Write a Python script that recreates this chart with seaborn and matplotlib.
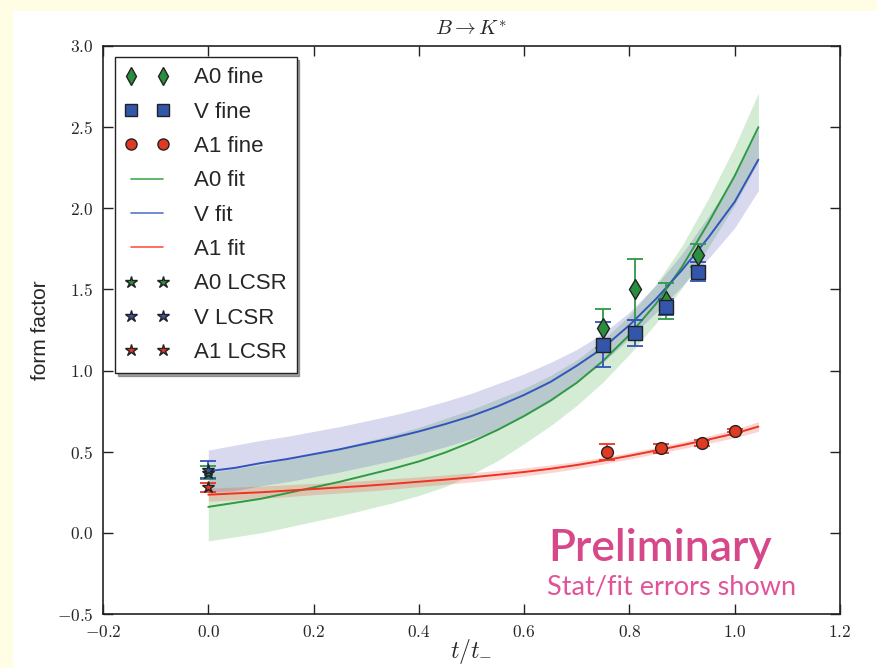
import numpy as np
import pandas as pd
import matplotlib
matplotlib.use("Agg")
import matplotlib.pyplot as plt
import seaborn as sns
from matplotlib.lines import Line2D
from matplotlib.ticker import FuncFormatter

# ---------------- data ----------------
fit_t = [0.0, 0.05, 0.1, 0.15, 0.2, 0.25, 0.3, 0.35, 0.4, 0.45, 0.5, 0.55, 0.6,
         0.65, 0.7, 0.75, 0.8, 0.85, 0.9, 0.95, 1.0, 1.045]
a0_fit = [0.16, 0.185, 0.21, 0.245, 0.28, 0.315, 0.355, 0.395, 0.44, 0.495, 0.56,
          0.635, 0.72, 0.815, 0.925, 1.06, 1.22, 1.41, 1.64, 1.91, 2.20, 2.50]
a0_err = [0.21, 0.21, 0.21, 0.21, 0.21, 0.21, 0.21, 0.21, 0.21, 0.21, 0.20, 0.19,
          0.17, 0.155, 0.14, 0.13, 0.12, 0.12, 0.13, 0.15, 0.18, 0.21]
v_fit = [0.38, 0.40, 0.43, 0.455, 0.485, 0.515, 0.55, 0.585, 0.625, 0.67, 0.72,
         0.78, 0.85, 0.93, 1.03, 1.14, 1.28, 1.44, 1.62, 1.82, 2.04, 2.30]
v_err = [0.13, 0.14, 0.14, 0.14, 0.14, 0.14, 0.14, 0.14, 0.14, 0.14, 0.14, 0.14,
         0.13, 0.12, 0.10, 0.09, 0.08, 0.085, 0.10, 0.13, 0.16, 0.19]
a1_fit = [0.235, 0.243, 0.25, 0.26, 0.27, 0.28, 0.29, 0.302, 0.315, 0.328, 0.342,
          0.358, 0.375, 0.395, 0.418, 0.445, 0.475, 0.507, 0.54, 0.575, 0.612, 0.655]
a1_err = [0.04, 0.039, 0.038, 0.037, 0.035, 0.034, 0.033, 0.032, 0.03, 0.029, 0.028,
          0.027, 0.025, 0.024, 0.022, 0.021, 0.02, 0.02, 0.021, 0.023, 0.026, 0.03]

a0_t = [0.75, 0.81, 0.87, 0.93]
a0_val = [1.26, 1.50, 1.43, 1.71]
a0_unc = [0.12, 0.19, 0.11, 0.07]

v_t = [0.75, 0.81, 0.87, 0.93]
v_val = [1.16, 1.23, 1.39, 1.61]
v_unc = [0.14, 0.08, 0.05, 0.06]

a1_t = [0.757, 0.86, 0.937, 1.0]
a1_val = [0.50, 0.52, 0.555, 0.63]
a1_unc = [0.05, 0.03, 0.02, 0.01]

lcsr_t = [0.0]
a0_lcsr, a0_lcsr_err = [0.37], [0.04]
v_lcsr, v_lcsr_err = [0.39], [0.05]
a1_lcsr, a1_lcsr_err = [0.28], [0.03]

x_ticks = [-0.2, 0.0, 0.2, 0.4, 0.6, 0.8, 1.0, 1.2]
y_ticks = [-0.5, 0.0, 0.5, 1.0, 1.5, 2.0, 2.5, 3.0]

# ---------------- style ----------------
sns.set_style("ticks")
plt.rcParams["mathtext.fontset"] = "cm"
plt.rcParams["font.family"] = ["Liberation Sans", "DejaVu Sans"]

G_LINE, B_LINE, R_LINE = "#2e9a44", "#3355bb", "#ee3322"
G_MK, B_MK, R_MK = "#2a8f3c", "#3355aa", "#e03a22"
EDGE = "#222222"

fig = plt.figure(figsize=(8.77, 6.68), dpi=100, facecolor="#fffde4")
fig.patches.append(plt.Rectangle((13 / 877, 0), 1, 1 - 11 / 668, transform=fig.transFigure,
                                 facecolor="white", edgecolor="none", zorder=-10))
ax = fig.add_axes([103 / 877, 54 / 668, 737 / 877, 568 / 668])
ax.set_facecolor("white")

df = pd.DataFrame({"t": fit_t, "A0": a0_fit, "V": v_fit, "A1": a1_fit})
t = np.array(fit_t)

ax.fill_between(t, np.array(a0_fit) - a0_err, np.array(a0_fit) + a0_err,
                color="#2ca02c", alpha=0.2, lw=0, zorder=1)
ax.fill_between(t, np.array(v_fit) - v_err, np.array(v_fit) + v_err,
                color="#5050b8", alpha=0.22, lw=0, zorder=1)
ax.fill_between(t, np.array(a1_fit) - a1_err, np.array(a1_fit) + a1_err,
                color="#f04030", alpha=0.22, lw=0, zorder=1)

sns.lineplot(data=df, x="t", y="A0", ax=ax, color=G_LINE, lw=1.4, zorder=2)
sns.lineplot(data=df, x="t", y="V", ax=ax, color=B_LINE, lw=1.4, zorder=2)
sns.lineplot(data=df, x="t", y="A1", ax=ax, color=R_LINE, lw=1.4, zorder=2)

def pts(x, y, e, marker, fc, ms, ecol):
    ax.errorbar(x, y, yerr=e, fmt="none", ecolor=ecol, elinewidth=1.3,
                capsize=6, capthick=1.3, zorder=3)
    ax.plot(x, y, ls="none", marker=marker, mfc=fc, mec=EDGE, mew=1.0,
            ms=ms, zorder=4)

pts(a0_t, a0_val, a0_unc, "d", G_MK, 10, G_LINE)
pts(v_t, v_val, v_unc, "s", B_MK, 9.5, B_LINE)
pts(a1_t, a1_val, a1_unc, "o", R_MK, 8.5, R_LINE)
pts(lcsr_t, a0_lcsr, a0_lcsr_err, "*", G_MK, 9, G_LINE)
pts(lcsr_t, v_lcsr, v_lcsr_err, "*", B_MK, 9, B_LINE)
pts(lcsr_t, a1_lcsr, a1_lcsr_err, "*", R_MK, 9, R_LINE)

ax.set_xlim(-0.2, 1.2)
ax.set_ylim(-0.5, 3.0)
ax.set_xticks(x_ticks)
ax.set_yticks(y_ticks)
fmt = FuncFormatter(lambda v, p: r"$%.1f$" % v)
ax.xaxis.set_major_formatter(fmt)
ax.yaxis.set_major_formatter(fmt)
ax.tick_params(axis="both", which="major", direction="in", length=7, width=1,
               top=True, right=True, labelsize=12.5, color="#222222")
ax.tick_params(axis="x", pad=7)
ax.tick_params(axis="y", pad=7)
for s in ax.spines.values():
    s.set_color("#222222")
    s.set_linewidth(1.2)

ax.set_title(r"$B \rightarrow K^{*}$", fontsize=15, pad=8)
ax.set_xlabel(r"$t/t_{-}$", fontsize=17, labelpad=-2)
ax.set_ylabel("form factor", fontsize=15, labelpad=5)

handles = [
    Line2D([], [], ls="none", marker="d", mfc=G_MK, mec=EDGE, ms=9),
    Line2D([], [], ls="none", marker="s", mfc=B_MK, mec=EDGE, ms=8),
    Line2D([], [], ls="none", marker="o", mfc=R_MK, mec=EDGE, ms=8),
    Line2D([], [], color="#44aa55", lw=1.2),
    Line2D([], [], color="#5577cc", lw=1.2),
    Line2D([], [], color="#ff5544", lw=1.2),
    Line2D([], [], ls="none", marker="*", mfc=G_MK, mec=EDGE, ms=9),
    Line2D([], [], ls="none", marker="*", mfc=B_MK, mec=EDGE, ms=9),
    Line2D([], [], ls="none", marker="*", mfc=R_MK, mec=EDGE, ms=9),
]
labels = ["A0 fine", "V fine", "A1 fine", "A0 fit", "V fit", "A1 fit",
          "A0 LCSR", "V LCSR", "A1 LCSR"]
leg = ax.legend(handles, labels, loc="upper left", numpoints=2, fontsize=16,
                frameon=True, fancybox=False, shadow=True, borderpad=0.45,
                labelspacing=0.6, handlelength=2.0, handletextpad=1.1,
                borderaxespad=0, bbox_to_anchor=(0.016, 0.98))
leg.get_frame().set_edgecolor("#222222")
leg.get_frame().set_linewidth(1.0)
leg.get_frame().set_alpha(1.0)

ax.text(0.756, 0.116, "Preliminary", transform=ax.transAxes, ha="center",
        va="center", fontsize=32, fontweight="semibold", color="#d6488a",
        family=["Lato", "DejaVu Sans"])
ax.text(0.772, 0.048, "Stat/fit errors shown", transform=ax.transAxes, ha="center",
        va="center", fontsize=19.5, color="#e0559a", family=["Lato", "DejaVu Sans"])

fig.savefig("out.png", dpi=100, facecolor=fig.get_facecolor())
